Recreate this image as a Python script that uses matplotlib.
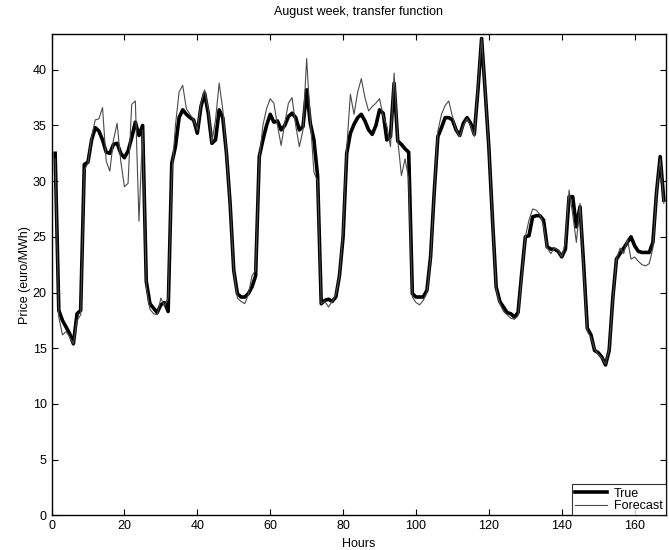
import numpy as np
import matplotlib
matplotlib.use("Agg")
import matplotlib.pyplot as plt

# hourly prices, hours 1..168
true_price = [
    32.5, 18.4, 17.5, 16.9, 16.3, 15.4, 18.1, 18.4, 31.5, 31.7,
    33.7, 34.8, 34.5, 33.7, 32.6, 32.5, 33.3, 33.4, 32.5, 32.1,
    32.7, 33.9, 35.3, 34.1, 35.0, 21.0, 19.0, 18.6, 18.2, 18.9,
    19.1, 18.3, 31.6, 33.1, 35.7, 36.4, 36.0, 35.7, 35.5, 34.3,
    36.7, 37.9, 36.1, 33.4, 33.7, 36.4, 35.7, 32.5, 28.0, 22.0,
    19.9, 19.6, 19.6, 19.9, 20.5, 21.5, 32.2, 33.7, 35.0, 36.0,
    35.3, 35.4, 34.6, 35.0, 35.8, 36.1, 35.7, 34.6, 34.9, 38.2,
    35.2, 33.7, 30.5, 19.0, 19.3, 19.4, 19.2, 19.6, 21.5, 25.0,
    32.5, 34.3, 35.1, 35.7, 36.0, 35.4, 34.6, 34.2, 35.0, 36.4,
    36.1, 33.7, 34.0, 38.8, 33.6, 33.3, 32.9, 32.6, 19.9, 19.6,
    19.6, 19.6, 20.2, 23.2, 29.0, 34.0, 34.8, 35.7, 35.7, 35.5,
    34.6, 34.1, 35.2, 35.7, 35.2, 34.2, 38.2, 42.8, 38.0, 33.0,
    26.5, 20.5, 19.2, 18.7, 18.2, 18.1, 17.8, 18.2, 21.7, 25.0,
    25.1, 26.8, 26.9, 26.9, 26.5, 24.1, 23.9, 23.9, 23.7, 23.2,
    23.9, 28.6, 28.6, 25.9, 27.7, 22.5, 16.8, 16.2, 14.8, 14.6,
    14.2, 13.5, 14.8, 19.5, 23.0, 23.5, 24.0, 24.5, 25.0, 24.2,
    23.7, 23.6, 23.6, 23.6, 24.5, 29.0, 32.2, 28.3,
]

forecast_price = [
    32.0, 17.8, 16.2, 16.5, 16.0, 15.4, 17.5, 18.0, 31.0, 31.6,
    34.0, 35.5, 35.6, 36.6, 31.8, 30.9, 33.7, 35.2, 31.8, 29.5,
    29.8, 36.9, 37.2, 26.4, 34.6, 20.5, 18.5, 18.1, 18.0, 19.5,
    18.8, 19.5, 30.5, 35.0, 38.0, 38.6, 36.5, 36.0, 35.5, 34.6,
    37.0, 38.2, 36.5, 33.5, 35.5, 38.8, 36.4, 32.5, 28.0, 22.0,
    19.5, 19.2, 19.0, 19.8, 21.5, 22.0, 32.0, 35.0, 36.5, 37.4,
    37.0, 35.0, 33.2, 35.2, 37.0, 37.5, 35.0, 33.1, 34.6, 41.0,
    35.5, 30.8, 30.0, 19.0, 19.2, 18.7, 19.2, 19.8, 21.5, 25.5,
    33.0, 37.8, 36.0, 38.0, 39.2, 37.5, 36.3, 36.7, 37.0, 37.4,
    35.8, 35.0, 33.1, 39.7, 33.7, 30.5, 32.0, 30.2, 19.6, 19.1,
    18.9, 19.3, 20.0, 23.0, 29.0, 34.5, 36.0, 36.8, 37.2, 35.8,
    34.6, 34.0, 35.0, 35.6, 35.0, 34.0, 38.5, 42.8, 38.0, 33.0,
    26.5, 20.3, 19.0, 18.3, 18.0, 17.7, 17.6, 17.9, 21.5, 25.0,
    26.5, 27.5, 27.4, 27.0, 26.0, 24.0, 23.5, 24.0, 23.8, 23.2,
    24.5, 29.2, 27.0, 24.5, 28.0, 22.0, 16.5, 16.0, 14.9, 14.5,
    14.1, 13.6, 14.9, 19.3, 23.0, 24.0, 23.5, 24.8, 23.0, 23.2,
    22.8, 22.5, 22.4, 22.6, 24.0, 29.0, 32.0, 28.0,
]

hours = np.arange(1, len(true_price) + 1)

plt.rcParams["font.family"] = ["Liberation Sans", "DejaVu Sans"]

fig = plt.figure(figsize=(6.69, 5.5), dpi=100)
ax = fig.add_axes([0.077, 0.063, 0.918, 0.875])

ax.plot(hours, true_price, color="black", linewidth=2.6, label="True")
ax.plot(hours, forecast_price, color="#4a4a4a", linewidth=0.8, label="Forecast")

ax.set_xlim(0, 168.5)
ax.set_ylim(0, 43.2)
ax.set_xticks(np.arange(0, 161, 20))
ax.set_yticks(np.arange(0, 41, 5))
ax.tick_params(direction="in", top=True, right=True, labelsize=9, length=4)
for spine in ax.spines.values():
    spine.set_linewidth(1.0)

ax.set_title("August week, transfer function", fontsize=9, pad=14)
ax.set_xlabel("Hours", fontsize=9, labelpad=4)
ax.set_ylabel("Price (euro/MWh)", fontsize=9, labelpad=1)

leg = ax.legend(loc="lower right", fontsize=9, frameon=True, fancybox=False,
                borderaxespad=0.0, handlelength=2.6, handletextpad=0.5,
                borderpad=0.25, labelspacing=0.05, edgecolor="black")
leg.get_frame().set_linewidth(0.8)

fig.savefig("out.png", dpi=100)
